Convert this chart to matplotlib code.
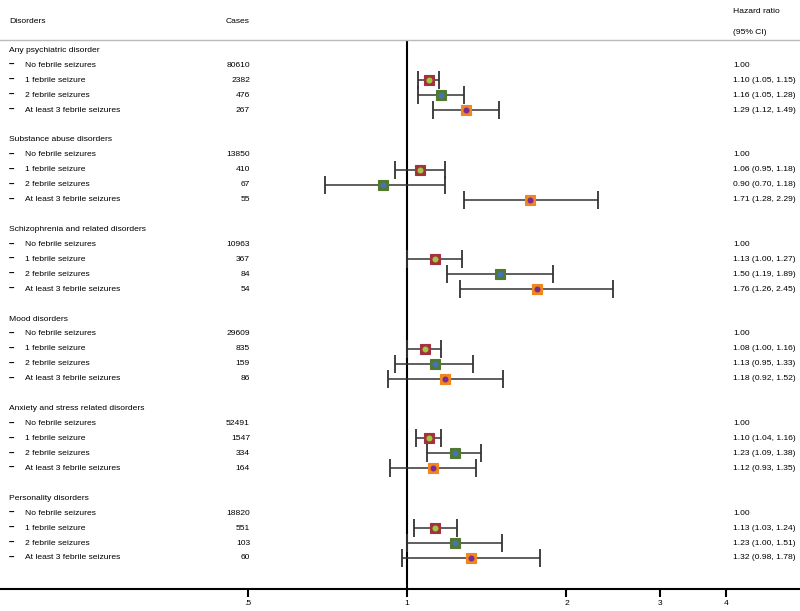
import matplotlib.pyplot as plt
import numpy as np

plt.rcParams['font.family'] = ['Liberation Sans', 'DejaVu Sans']

groups = ["Any psychiatric disorder", "Substance abuse disorders",
          "Schizophrenia and related disorders", "Mood disorders",
          "Anxiety and stress related disorders", "Personality disorders"]
levels = ["No febrile seizures", "1 febrile seizure", "2 febrile seizures",
          "At least 3 febrile seizures"]
cases = [[80610, 2382, 476, 267],
         [13850, 410, 67, 55],
         [10963, 367, 84, 54],
         [29609, 835, 159, 86],
         [52491, 1547, 334, 164],
         [18820, 551, 103, 60]]
# hazard ratios for 1, 2, >=3 febrile seizures (reference = 1.00)
hr = [[1.10, 1.16, 1.29],
      [1.06, 0.90, 1.71],
      [1.13, 1.50, 1.76],
      [1.08, 1.13, 1.18],
      [1.10, 1.23, 1.12],
      [1.13, 1.23, 1.32]]
lo = [[1.05, 1.05, 1.12],
      [0.95, 0.70, 1.28],
      [1.00, 1.19, 1.26],
      [1.00, 0.95, 0.92],
      [1.04, 1.09, 0.93],
      [1.03, 1.00, 0.98]]
hi = [[1.15, 1.28, 1.49],
      [1.18, 1.18, 2.29],
      [1.27, 1.89, 2.45],
      [1.16, 1.33, 1.52],
      [1.16, 1.38, 1.35],
      [1.24, 1.51, 1.78]]
xticks = [0.5, 1, 2, 3, 4]
xticklabels = [".5", "1", "2", "3", "4"]

square_cols = ['#a3313f', '#4f7a2f', '#f0861c']
dot_cols = ['#9ccc3c', '#4872b6', '#7a2b97']

fig = plt.figure(figsize=(8, 6.11), dpi=100)
ax = fig.add_axes([0, 22 / 611, 1, 549 / 611])
ax.set_xscale('log')
ax.set_xlim(0.1704, 5.52)
ax.set_ylim(36.08, -0.69)

fs = 6.1
tr = ax.get_yaxis_transform()

for g, name in enumerate(groups):
    y0 = g * 6
    ax.text(9 / 800, y0, name, transform=tr, fontsize=fs, va='center')
    for k, lev in enumerate(levels):
        y = y0 + 1 + k
        ax.text(9 / 800, y, "–", transform=tr, fontsize=fs + 1, va='center',
                fontweight='bold')
        ax.text(25 / 800, y, lev, transform=tr, fontsize=fs, va='center')
        ax.text(250 / 800, y, str(cases[g][k]), transform=tr, fontsize=fs,
                va='center', ha='right')
        if k == 0:
            ax.text(733 / 800, y, "1.00", transform=tr, fontsize=fs, va='center')
            continue
        i = k - 1
        h, l, u = hr[g][i], lo[g][i], hi[g][i]
        ax.errorbar(h, y, xerr=[[h - l], [u - h]], fmt='none', ecolor='#333333',
                    elinewidth=1.1, capsize=6.5, capthick=1.3, zorder=2)
        ax.plot(h, y, marker='s', ms=7.5, color=square_cols[i],
                mec=square_cols[i], mew=0.8, zorder=3)
        ax.plot(h, y, marker='o', ms=4.3, color=dot_cols[i], mew=0, zorder=4)
        ax.text(733 / 800, y, f"{h:.2f} ({l:.2f}, {u:.2f})", transform=tr,
                fontsize=fs, va='center')

# headers
ax.text(9 / 800, -1.92, "Disorders", transform=tr, fontsize=fs, va='center')
ax.text(250 / 800, -1.92, "Cases", transform=tr, fontsize=fs, va='center', ha='right')
ax.text(733 / 800, -2.585, "Hazard ratio", transform=tr, fontsize=fs, va='center')
ax.text(733 / 800, -1.206, "(95% CI)", transform=tr, fontsize=fs, va='center')
for t in ax.texts:
    t.set_clip_on(False)

ax.axvline(1, color='black', lw=1.5, zorder=1)

ax.spines['left'].set_visible(False)
ax.spines['right'].set_visible(False)
ax.spines['top'].set_color('#bbbbbb')
ax.spines['top'].set_linewidth(1)
ax.spines['bottom'].set_linewidth(1.5)
ax.set_yticks([])
ax.set_xticks(xticks)
ax.set_xticklabels(xticklabels, fontsize=fs)
ax.xaxis.set_minor_locator(plt.NullLocator())
ax.tick_params(axis='x', length=6, width=1.5, pad=2)

fig.savefig('out.png', dpi=100)
